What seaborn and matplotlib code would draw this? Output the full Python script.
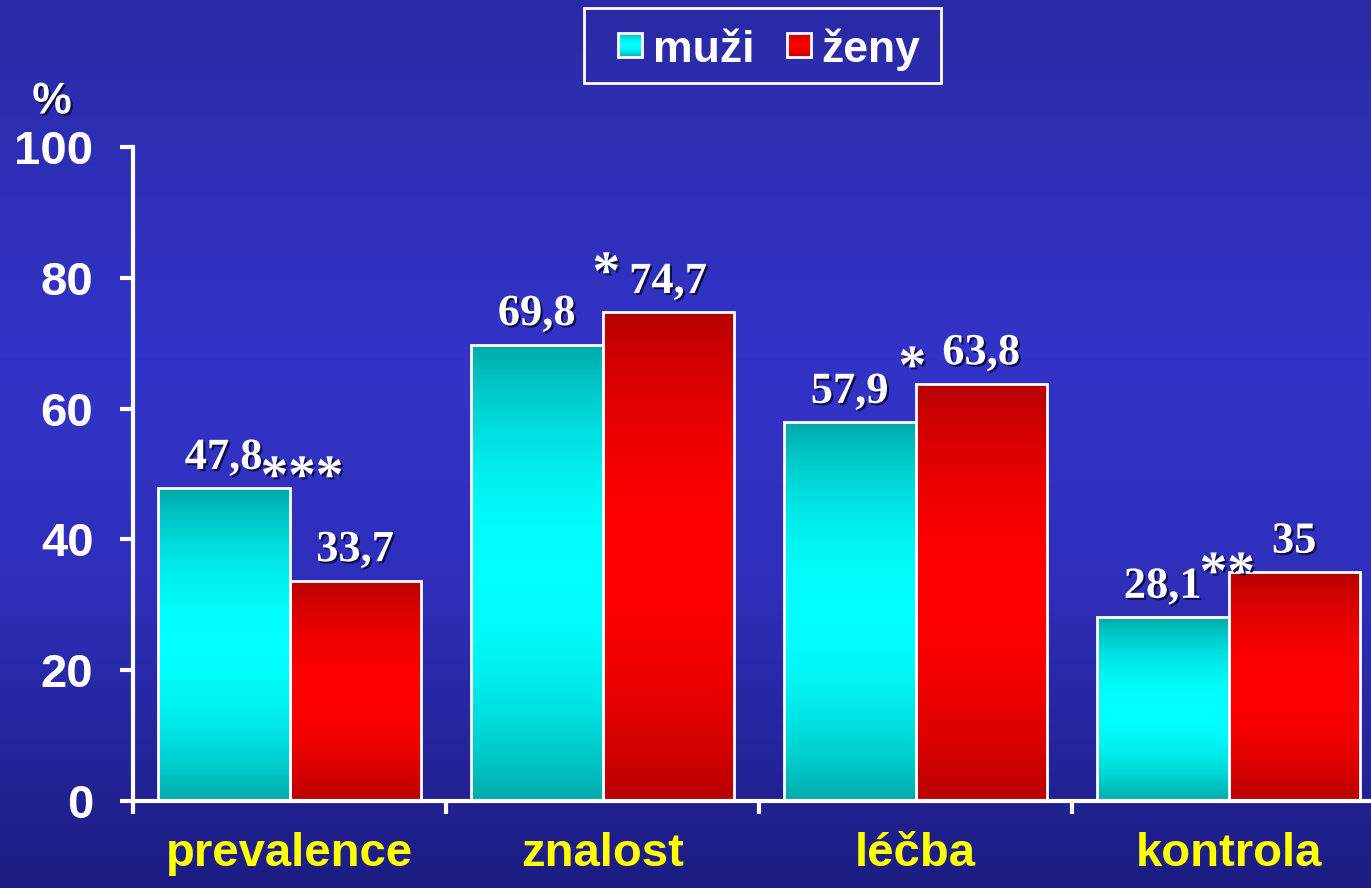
import numpy as np
import pandas as pd
import matplotlib.pyplot as plt
import seaborn as sns
from matplotlib.colors import LinearSegmentedColormap
from matplotlib.patches import Rectangle
import matplotlib.patheffects as pe

## ---------------- data ----------------
kategorie = ['prevalence', 'znalost', 'léčba', 'kontrola']
muzi = [47.8, 69.8, 57.9, 28.1]
zeny = [33.7, 74.7, 63.8, 35.0]
hvezdy = ['***', '*', '*', '**']
hvezdy_x = [0.04, 1.012, 1.99, 2.996]
hvezdy_y = [51.2, 82.4, 68.0, 36.5]   # stred hvezdicek
yticks = [0, 20, 40, 60, 80, 100]
legenda = ['muži', 'ženy']

df = pd.DataFrame({
    'kategorie': kategorie * 2,
    'hodnota': muzi + zeny,
    'pohlavi': ['muži'] * 4 + ['ženy'] * 4,
})

## ---------------- style ----------------
sns.set_style('white')
plt.rcParams['font.family'] = ['Liberation Sans', 'DejaVu Sans']
serif = 'Liberation Serif'
shadow = [pe.withSimplePatchShadow(offset=(1.5, -1.5), shadow_rgbFace='#0a0a40', alpha=0.9)]

W, H = 1371, 888
fig = plt.figure(figsize=(W / 100, H / 100), dpi=100)

# background gradient (also used for the legend boxes)
bg = fig.add_axes([0, 0, 1, 1], zorder=-10)
bg_cmap = LinearSegmentedColormap.from_list(
    'bg', [(0, '#2a2aa6'), (0.4, '#3333c8'), (0.65, '#2f2fbc'), (1, '#1c1c82')])
bg.imshow(np.linspace(0, 1, 256)[:, None], aspect='auto', cmap=bg_cmap,
          extent=[0, W, H, 0], origin='upper')
bg.axis('off')

ax = fig.add_axes([133 / W, 87 / H, 1252 / W, 654 / H])
ax.set_facecolor('none')

sns.barplot(data=df, x='kategorie', y='hodnota', hue='pohlavi',
            palette=['#00e8e8', '#ee0000'], width=0.84, edgecolor='white',
            linewidth=2, legend=False, ax=ax, saturation=1)

# gradient fill of bars
t = np.linspace(0, 1, 256)
prof = np.clip(np.sin(np.pi * t) ** 0.8, 0, 1)[:, None]
cm_teal = LinearSegmentedColormap.from_list('teal', ['#00a6a6', '#00ffff'])
cm_red = LinearSegmentedColormap.from_list('red', ['#b40000', '#ff0000'])
for cont, cm, vals in zip(ax.containers, [cm_teal, cm_red], [muzi, zeny]):
    for bar, v in zip(cont, vals):
        x0, w, h = bar.get_x(), bar.get_width(), bar.get_height()
        bar.set_facecolor('none')
        bar.set_zorder(3)
        im = ax.imshow(prof, aspect='auto', cmap=cm, vmin=0, vmax=1,
                       extent=[x0, x0 + w, 0, h], origin='upper', zorder=2)
        im.set_clip_path(bar)
        lab = f'{v:g}'.replace('.', ',')
        ax.annotate(lab, (x0 + w / 2, h), xytext=(0, 14), textcoords='offset points',
                    ha='center', va='baseline', fontsize=32, fontweight='bold',
                    family=serif, color='white', path_effects=shadow, zorder=5)

# hvezdicky (vyznamnost) - each star drawn separately, tightly packed
for s, x, y in zip(hvezdy, hvezdy_x, hvezdy_y):
    n = len(s)
    for i in range(n):
        xi = x + (i - (n - 1) / 2) * 0.088
        ax.text(xi, y - 4.1, '*', ha='center', va='baseline', fontsize=40,
                fontweight='bold', family=serif, color='white',
                path_effects=shadow, zorder=5)

ax.set_xlim(-0.5, 3.5)
ax.set_ylim(0, 100)
ax.set_xlabel('')
ax.set_ylabel('')

for side in ['top', 'right']:
    ax.spines[side].set_visible(False)
for side in ['left', 'bottom']:
    ax.spines[side].set_color('white')
    ax.spines[side].set_linewidth(3)

ax.set_yticks(yticks)
ax.set_yticklabels([str(v) for v in yticks])
ax.tick_params(axis='y', colors='white', length=9.5, width=3, pad=19,
               labelsize=34, direction='out', left=True)
for lbl in ax.get_yticklabels():
    lbl.set_fontweight('bold')

ax.set_xticks(range(4))
ax.set_xticklabels(kategorie)
ax.set_xticks([-0.5, 0.5, 1.5, 2.5, 3.5], minor=True)
ax.tick_params(axis='x', which='major', length=0, pad=22, labelsize=34,
               labelcolor='#ffff00')
ax.tick_params(axis='x', which='minor', length=9, width=3, color='white',
               direction='out', bottom=True)
for lbl in ax.get_xticklabels():
    lbl.set_fontweight('bold')

fig.text(52 / W, 1 - 102 / H, '%', ha='center', va='center', fontsize=32,
         fontweight='bold', color='white', path_effects=shadow)

# legend box drawn in pixel coordinates on the background axes
bg.add_patch(Rectangle((584, 8), 357, 75, facecolor='none', edgecolor='white',
                       linewidth=2, zorder=5))
for x_h, x_t, cm, txt in zip([618, 787], [653, 821], [cm_teal, cm_red], legenda):
    bg.imshow(prof, aspect='auto', cmap=cm, vmin=0, vmax=1,
              extent=[x_h, x_h + 24, 57, 33], origin='upper', zorder=5)
    bg.add_patch(Rectangle((x_h, 33), 24, 24, facecolor='none', edgecolor='white',
                           linewidth=2, zorder=6))
    bg.text(x_t, 62, txt, ha='left', va='baseline', fontsize=32,
            fontweight='bold', color='white', zorder=6)
bg.set_xlim(0, W)
bg.set_ylim(H, 0)

fig.savefig('out.png', dpi=100)
